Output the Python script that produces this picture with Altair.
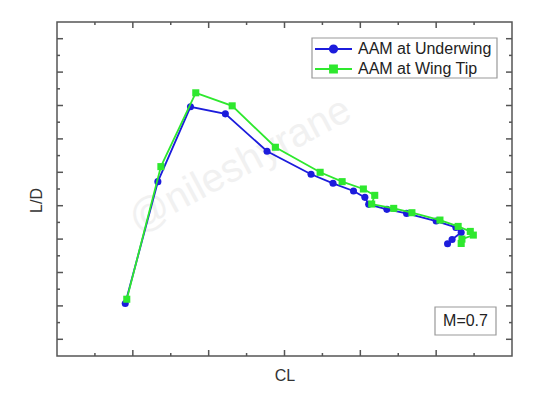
import altair as alt
import pandas as pd

series_names = ["AAM at Underwing", "AAM at Wing Tip"]
series_colors = ["#1c1cdc", "#2ee82e"]

underwing_cl = [0.90, 1.33, 1.76, 2.22, 2.77, 3.35, 3.64, 3.91, 4.06, 4.11, 4.35, 4.61, 5.00, 5.26, 5.33, 5.21, 5.15]
underwing_ld = [1.57, 5.22, 7.46, 7.25, 6.13, 5.44, 5.17, 4.94, 4.75, 4.54, 4.39, 4.27, 4.04, 3.85, 3.70, 3.49, 3.36]
wingtip_cl = [0.92, 1.37, 1.83, 2.31, 2.88, 3.47, 3.76, 4.04, 4.19, 4.15, 4.44, 4.68, 5.05, 5.29, 5.45, 5.49, 5.34, 5.33]
wingtip_ld = [1.70, 5.67, 7.88, 7.49, 6.25, 5.50, 5.22, 5.00, 4.81, 4.55, 4.42, 4.29, 4.07, 3.88, 3.73, 3.62, 3.50, 3.37]

x_major = [1, 2, 3, 4, 5]
x_minor = [0.5, 1.5, 2.5, 3.5, 4.5, 5.5]
y_major = [0.5, 1.5, 2.5, 3.5, 4.5, 5.5, 6.5, 7.5, 8.5, 9.5]
y_minor = [1, 2, 3, 4, 5, 6, 7, 8, 9]

annotation = "M=0.7"
watermark = "@nileshyrane"

W, H = 455, 334
XDOM, YDOM = [0, 6], [0, 10]

xs = alt.Scale(domain=XDOM, nice=False, zero=False)
ys = alt.Scale(domain=YDOM, nice=False, zero=False)

xaxis = alt.Axis(labels=False, ticks=False, domain=False, grid=False, titleFontSize=16,
                 titleFont="Liberation Sans", titleFontWeight="normal", titleColor="#333", titlePadding=11)
yaxis = alt.Axis(labels=False, ticks=False, domain=False, grid=False, titleFontSize=16,
                 titleFont="Liberation Sans", titleFontWeight="normal", titleColor="#333", titlePadding=13,
                 titleY=178)

circle_path = "M-1,0H1M-0.2,0A0.2,0.2,0,1,0,0.2,0A0.2,0.2,0,1,0,-0.2,0Z"
square_path = "M-1,0H1M-0.19,-0.19H0.19V0.19H-0.19Z"
paths = [circle_path, square_path]
marks = ["circle", "square"]
legend_y = [16, 36]


def series_layer(k, xs_vals, ys_vals):
    name, col = series_names[k], series_colors[k]
    d = pd.DataFrame({"series": name, "CL": xs_vals, "LD": ys_vals, "idx": range(len(xs_vals))})
    leg = alt.Legend(
        title=None, orient="none", legendX=255, legendY=legend_y[k],
        symbolType=paths[k], symbolSize=1369, symbolStrokeWidth=1.8,
        symbolFillColor=col, symbolStrokeColor=col, symbolOpacity=1,
        clipHeight=18, padding=2, labelOffset=5,
        labelFontSize=16, labelFont="Liberation Sans", labelColor="#222",
    )
    cs = alt.Scale(domain=[name], range=[col])
    b = alt.Chart(d)
    ln = b.mark_line(strokeWidth=1.8).encode(
        x=alt.X("CL:Q", scale=xs, axis=xaxis, title="CL"),
        y=alt.Y("LD:Q", scale=ys, axis=yaxis, title="L/D"),
        color=alt.Color("series:N", scale=cs, legend=leg),
        order="idx:Q",
    )
    pt = b.mark_point(filled=True, size=50, opacity=1, shape=marks[k]).encode(
        x=alt.X("CL:Q", scale=xs),
        y=alt.Y("LD:Q", scale=ys),
        color=alt.Color("series:N", scale=cs, legend=leg),
    )
    return alt.layer(ln, pt)


blue = series_layer(0, underwing_cl, underwing_ld)
green = series_layer(1, wingtip_cl, wingtip_ld)
data_layers = alt.layer(blue, green).resolve_scale(color="independent")

wm = alt.Chart(pd.DataFrame({"t": [watermark]})).mark_text(
    fontSize=40, font="Liberation Sans", color="#f1f1f1", angle=332
).encode(x=alt.value(183), y=alt.value(143), text="t:N")

tick_color = "#555"


def xticks(vals, L):
    d = pd.DataFrame({"v": vals})
    b = alt.Chart(d).mark_rule(color=tick_color, strokeWidth=1.5).encode(x=alt.X("v:Q", scale=xs))
    return [b.encode(y=alt.value(H), y2=alt.value(H - L)), b.encode(y=alt.value(0), y2=alt.value(L))]


def yticks(vals, L):
    d = pd.DataFrame({"v": vals})
    b = alt.Chart(d).mark_rule(color=tick_color, strokeWidth=1.5).encode(y=alt.Y("v:Q", scale=ys))
    return [b.encode(x=alt.value(0), x2=alt.value(L)), b.encode(x=alt.value(W), x2=alt.value(W - L))]


ticks = xticks(x_major, 6) + xticks(x_minor, 3) + yticks(y_major, 6) + yticks(y_minor, 3)

legend_box = alt.Chart(pd.DataFrame({"t": ["legend"]})).mark_rect(
    fill="white", stroke="#999", strokeWidth=1.2
).encode(x=alt.value(255), x2=alt.value(440), y=alt.value(16), y2=alt.value(56))

box = alt.Chart(pd.DataFrame({"t": [annotation]})).mark_rect(
    fill="white", stroke="#999", strokeWidth=1.2
).encode(x=alt.value(378), x2=alt.value(439), y=alt.value(285), y2=alt.value(313))
label = alt.Chart(pd.DataFrame({"t": [annotation]})).mark_text(
    fontSize=16, font="Liberation Sans", color="#222"
).encode(x=alt.value(408.5), y=alt.value(299), text="t:N")

chart = alt.layer(wm, *ticks, legend_box, data_layers, box, label).properties(
    width=W, height=H,
    background="white",
    autosize=alt.AutoSizeParams(type="none"),
    padding={"left": 49, "top": 14, "right": 20, "bottom": 30},
).configure_view(stroke="#555", strokeWidth=1.5)

chart.save("out.html", embed_options={"renderer": "svg", "actions": False})
